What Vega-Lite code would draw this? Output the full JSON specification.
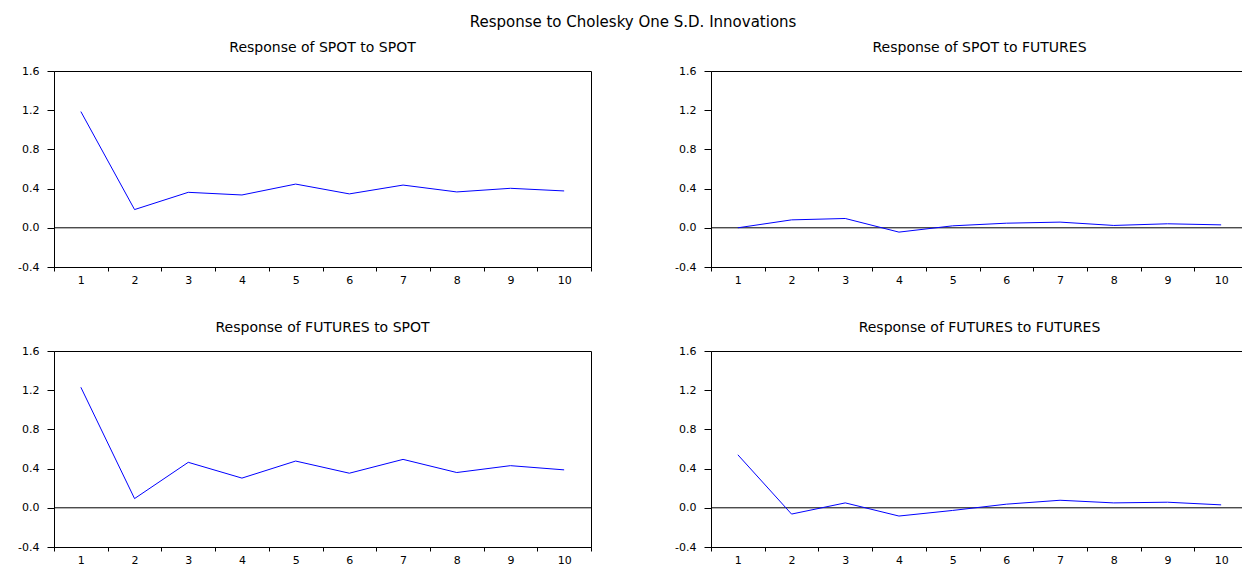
{
  "$schema": "https://vega.github.io/schema/vega-lite/v6.json",
  "background": "white",
  "padding": {"left": 17, "right": 0, "top": 14, "bottom": 0},
  "title": {"text": "Response to Cholesky One S.D. Innovations", "font": "DejaVu Sans", "fontSize": 15, "fontWeight": "normal", "color": "black", "anchor": "middle", "offset": 11},
  "data": {"values": [
    {"panel": "SS", "period": 1, "value": 1.186},
    {"panel": "SS", "period": 2, "value": 0.186},
    {"panel": "SS", "period": 3, "value": 0.362},
    {"panel": "SS", "period": 4, "value": 0.335},
    {"panel": "SS", "period": 5, "value": 0.446},
    {"panel": "SS", "period": 6, "value": 0.346},
    {"panel": "SS", "period": 7, "value": 0.436},
    {"panel": "SS", "period": 8, "value": 0.366},
    {"panel": "SS", "period": 9, "value": 0.403},
    {"panel": "SS", "period": 10, "value": 0.376},
    {"panel": "SF", "period": 1, "value": 0.0},
    {"panel": "SF", "period": 2, "value": 0.081},
    {"panel": "SF", "period": 3, "value": 0.095},
    {"panel": "SF", "period": 4, "value": -0.044},
    {"panel": "SF", "period": 5, "value": 0.02},
    {"panel": "SF", "period": 6, "value": 0.047},
    {"panel": "SF", "period": 7, "value": 0.058},
    {"panel": "SF", "period": 8, "value": 0.024},
    {"panel": "SF", "period": 9, "value": 0.041},
    {"panel": "SF", "period": 10, "value": 0.03},
    {"panel": "FS", "period": 1, "value": 1.23},
    {"panel": "FS", "period": 2, "value": 0.094},
    {"panel": "FS", "period": 3, "value": 0.464},
    {"panel": "FS", "period": 4, "value": 0.303},
    {"panel": "FS", "period": 5, "value": 0.477},
    {"panel": "FS", "period": 6, "value": 0.353},
    {"panel": "FS", "period": 7, "value": 0.494},
    {"panel": "FS", "period": 8, "value": 0.36},
    {"panel": "FS", "period": 9, "value": 0.43},
    {"panel": "FS", "period": 10, "value": 0.387},
    {"panel": "FF", "period": 1, "value": 0.541},
    {"panel": "FF", "period": 2, "value": -0.064},
    {"panel": "FF", "period": 3, "value": 0.05},
    {"panel": "FF", "period": 4, "value": -0.084},
    {"panel": "FF", "period": 5, "value": -0.027},
    {"panel": "FF", "period": 6, "value": 0.037},
    {"panel": "FF", "period": 7, "value": 0.077},
    {"panel": "FF", "period": 8, "value": 0.05},
    {"panel": "FF", "period": 9, "value": 0.057},
    {"panel": "FF", "period": 10, "value": 0.03}
  ]},
  "columns": 2,
  "spacing": {"column": 82, "row": 34},
  "config": {
    "view": {"stroke": "black", "strokeWidth": 1},
    "axis": {"domainColor": "black", "tickColor": "black", "labelColor": "black", "labelFont": "DejaVu Sans", "labelFontSize": 11, "grid": false, "title": null, "labelOverlap": false},
    "title": {"font": "DejaVu Sans", "fontSize": 14, "fontWeight": "normal", "color": "black", "offset": 10}
  },
  "concat": [
    {
      "width": 537, "height": 196,
      "title": {"text": "Response of SPOT to SPOT"},
      "encoding": {
        "y": {"type": "quantitative", "scale": {"domain": [-0.4, 1.6], "nice": false, "zero": false}, "axis": {"values": [-0.4, 0, 0.4, 0.8, 1.2, 1.6], "labelExpr": "replace(format(datum.value, '.1f'), '\u2212', '-')", "tickSize": 7, "labelPadding": 8, "labelOverlap": false, "title": null}}
      },
      "layer": [
        {
          "data": {"values": [{}]},
          "mark": {"type": "rule", "color": "black", "strokeWidth": 1},
          "encoding": {"y": {"datum": 0, "type": "quantitative"}}
        },
        {
          "transform": [{"filter": "datum.panel === 'SS'"}],
          "mark": {"type": "line", "color": "#0000FF", "strokeWidth": 1},
          "encoding": {
            "x": {"field": "period", "type": "ordinal", "bandPosition": 0.5, "scale": {"type": "band", "paddingInner": 0, "paddingOuter": 0}, "axis": {"labelAngle": 0, "tickBand": "extent", "tickSize": 4, "labelPadding": 3, "title": null}},
            "y": {"field": "value", "type": "quantitative"}
          }
        }
      ]
    },
    {
      "width": 537, "height": 196,
      "title": {"text": "Response of SPOT to FUTURES"},
      "encoding": {
        "y": {"type": "quantitative", "scale": {"domain": [-0.4, 1.6], "nice": false, "zero": false}, "axis": {"values": [-0.4, 0, 0.4, 0.8, 1.2, 1.6], "labelExpr": "replace(format(datum.value, '.1f'), '\u2212', '-')", "tickSize": 7, "labelPadding": 8, "labelOverlap": false, "title": null}}
      },
      "layer": [
        {
          "data": {"values": [{}]},
          "mark": {"type": "rule", "color": "black", "strokeWidth": 1},
          "encoding": {"y": {"datum": 0, "type": "quantitative"}}
        },
        {
          "transform": [{"filter": "datum.panel === 'SF'"}],
          "mark": {"type": "line", "color": "#0000FF", "strokeWidth": 1},
          "encoding": {
            "x": {"field": "period", "type": "ordinal", "bandPosition": 0.5, "scale": {"type": "band", "paddingInner": 0, "paddingOuter": 0}, "axis": {"labelAngle": 0, "tickBand": "extent", "tickSize": 4, "labelPadding": 3, "title": null}},
            "y": {"field": "value", "type": "quantitative"}
          }
        }
      ]
    },
    {
      "width": 537, "height": 196,
      "title": {"text": "Response of FUTURES to SPOT"},
      "encoding": {
        "y": {"type": "quantitative", "scale": {"domain": [-0.4, 1.6], "nice": false, "zero": false}, "axis": {"values": [-0.4, 0, 0.4, 0.8, 1.2, 1.6], "labelExpr": "replace(format(datum.value, '.1f'), '\u2212', '-')", "tickSize": 7, "labelPadding": 8, "labelOverlap": false, "title": null}}
      },
      "layer": [
        {
          "data": {"values": [{}]},
          "mark": {"type": "rule", "color": "black", "strokeWidth": 1},
          "encoding": {"y": {"datum": 0, "type": "quantitative"}}
        },
        {
          "transform": [{"filter": "datum.panel === 'FS'"}],
          "mark": {"type": "line", "color": "#0000FF", "strokeWidth": 1},
          "encoding": {
            "x": {"field": "period", "type": "ordinal", "bandPosition": 0.5, "scale": {"type": "band", "paddingInner": 0, "paddingOuter": 0}, "axis": {"labelAngle": 0, "tickBand": "extent", "tickSize": 4, "labelPadding": 3, "title": null}},
            "y": {"field": "value", "type": "quantitative"}
          }
        }
      ]
    },
    {
      "width": 537, "height": 196,
      "title": {"text": "Response of FUTURES to FUTURES"},
      "encoding": {
        "y": {"type": "quantitative", "scale": {"domain": [-0.4, 1.6], "nice": false, "zero": false}, "axis": {"values": [-0.4, 0, 0.4, 0.8, 1.2, 1.6], "labelExpr": "replace(format(datum.value, '.1f'), '\u2212', '-')", "tickSize": 7, "labelPadding": 8, "labelOverlap": false, "title": null}}
      },
      "layer": [
        {
          "data": {"values": [{}]},
          "mark": {"type": "rule", "color": "black", "strokeWidth": 1},
          "encoding": {"y": {"datum": 0, "type": "quantitative"}}
        },
        {
          "transform": [{"filter": "datum.panel === 'FF'"}],
          "mark": {"type": "line", "color": "#0000FF", "strokeWidth": 1},
          "encoding": {
            "x": {"field": "period", "type": "ordinal", "bandPosition": 0.5, "scale": {"type": "band", "paddingInner": 0, "paddingOuter": 0}, "axis": {"labelAngle": 0, "tickBand": "extent", "tickSize": 4, "labelPadding": 3, "title": null}},
            "y": {"field": "value", "type": "quantitative"}
          }
        }
      ]
    }
  ]
}
